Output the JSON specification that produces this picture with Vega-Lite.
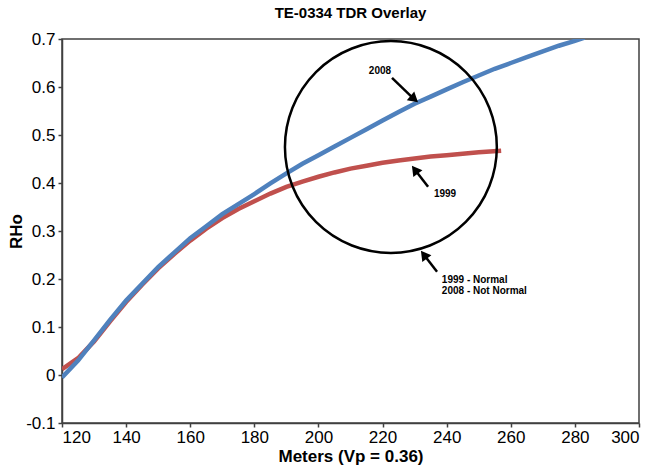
{
  "$schema": "https://vega.github.io/schema/vega-lite/v6.json",
  "width": 577,
  "height": 384,
  "autosize": "none",
  "padding": {"left": 62, "top": 39, "right": 16, "bottom": 50},
  "background": "white",
  "title": {"text": "TE-0334 TDR Overlay", "font": "Liberation Sans", "fontSize": 15, "fontWeight": "bold", "color": "#000", "offset": 9, "anchor": "middle"},
  "config": {
    "view": {"stroke": "#404040", "strokeWidth": 1.5},
    "axis": {"grid": false, "domainColor": "#404040", "domainWidth": 1.5, "tickColor": "#404040", "tickWidth": 1.5, "tickSize": 4, "labelFont": "Liberation Sans", "labelFontSize": 17, "labelColor": "#000", "titleFont": "Liberation Sans", "titleFontSize": 17, "titleFontWeight": "bold", "titleColor": "#000"}
  },
  "datasets": {
    "r1999": [
      {"m": 120, "rho": 0.012}, {"m": 125, "rho": 0.035}, {"m": 130, "rho": 0.07}, {"m": 135, "rho": 0.112},
      {"m": 140, "rho": 0.152}, {"m": 145, "rho": 0.188}, {"m": 150, "rho": 0.222}, {"m": 155, "rho": 0.252},
      {"m": 160, "rho": 0.28}, {"m": 165, "rho": 0.305}, {"m": 170, "rho": 0.327}, {"m": 175, "rho": 0.346},
      {"m": 180, "rho": 0.362}, {"m": 185, "rho": 0.378}, {"m": 190, "rho": 0.392}, {"m": 195, "rho": 0.403},
      {"m": 200, "rho": 0.413}, {"m": 205, "rho": 0.422}, {"m": 210, "rho": 0.43}, {"m": 215, "rho": 0.436},
      {"m": 220, "rho": 0.442}, {"m": 225, "rho": 0.447}, {"m": 230, "rho": 0.451}, {"m": 235, "rho": 0.455},
      {"m": 240, "rho": 0.458}, {"m": 245, "rho": 0.461}, {"m": 250, "rho": 0.464}, {"m": 257, "rho": 0.467}
    ],
    "r2008": [
      {"m": 120, "rho": -0.005}, {"m": 125, "rho": 0.03}, {"m": 130, "rho": 0.072}, {"m": 135, "rho": 0.115},
      {"m": 140, "rho": 0.155}, {"m": 145, "rho": 0.19}, {"m": 150, "rho": 0.225}, {"m": 155, "rho": 0.255},
      {"m": 160, "rho": 0.285}, {"m": 165, "rho": 0.31}, {"m": 170, "rho": 0.335}, {"m": 175, "rho": 0.356},
      {"m": 180, "rho": 0.377}, {"m": 185, "rho": 0.399}, {"m": 190, "rho": 0.42}, {"m": 195, "rho": 0.44},
      {"m": 200, "rho": 0.458}, {"m": 205, "rho": 0.476}, {"m": 210, "rho": 0.494}, {"m": 215, "rho": 0.512},
      {"m": 220, "rho": 0.53}, {"m": 225, "rho": 0.548}, {"m": 230, "rho": 0.565}, {"m": 235, "rho": 0.58},
      {"m": 240, "rho": 0.595}, {"m": 245, "rho": 0.61}, {"m": 250, "rho": 0.624}, {"m": 255, "rho": 0.638},
      {"m": 260, "rho": 0.65}, {"m": 265, "rho": 0.662}, {"m": 270, "rho": 0.674}, {"m": 275, "rho": 0.686},
      {"m": 280, "rho": 0.696}, {"m": 283, "rho": 0.703}
    ],
    "circle": [{"m": 222.6, "rho": 0.475}],
    "arrows": [
      {"m": 222.95, "rho": 0.619, "m2": 229.5, "rho2": 0.577, "ang": 131},
      {"m": 234.2, "rho": 0.392, "m2": 230.4, "rho2": 0.425, "ang": 323},
      {"m": 237.0, "rho": 0.215, "m2": 233.2, "rho2": 0.248, "ang": 323}
    ],
    "labelsC": [
      {"m": 219.2, "rho": 0.633, "label": "2008"},
      {"m": 239.5, "rho": 0.377, "label": "1999"}
    ],
    "labelsL": [
      {"m": 238.5, "rho": 0.198, "label": "1999 - Normal"},
      {"m": 238.5, "rho": 0.175, "label": "2008 - Not Normal"}
    ]
  },
  "encoding": {
    "x": {"field": "m", "type": "quantitative", "scale": {"domain": [120, 300], "nice": false, "zero": false},
          "axis": {"values": [120, 140, 160, 180, 200, 220, 240, 260, 280, 300], "title": "Meters (Vp = 0.36)", "labelPadding": 2, "titlePadding": 3}},
    "y": {"field": "rho", "type": "quantitative", "scale": {"domain": [-0.1, 0.7], "nice": false, "zero": false},
          "axis": {"values": [-0.1, 0, 0.1, 0.2, 0.3, 0.4, 0.5, 0.6, 0.7], "title": "RHo", "labelPadding": 3, "titleX": -37,
                   "labelExpr": "datum.value < -0.05 ? '-0.1' : (abs(datum.value) < 1e-9 ? '0' : format(datum.value, '.1f'))"}}
  },
  "layer": [
    {"data": {"name": "r1999"}, "mark": {"type": "line", "color": "#C0504D", "strokeWidth": 4.5, "clip": true}},
    {"data": {"name": "r2008"}, "mark": {"type": "line", "color": "#4F81BD", "strokeWidth": 4.5, "clip": true}},
    {"data": {"name": "circle"}, "mark": {"type": "point", "shape": "circle", "size": 44900, "filled": false, "stroke": "#000", "strokeWidth": 2.5, "opacity": 1}},
    {"data": {"name": "arrows"}, "mark": {"type": "rule", "color": "#000", "strokeWidth": 2.5},
     "encoding": {"x2": {"field": "m2"}, "y2": {"field": "rho2"}}},
    {"data": {"name": "arrows"}, "mark": {"type": "point", "shape": "triangle", "filled": true, "color": "#000", "size": 130, "opacity": 1},
     "encoding": {"x": {"field": "m2", "type": "quantitative"}, "y": {"field": "rho2", "type": "quantitative"}, "angle": {"field": "ang", "type": "quantitative", "scale": null}}},
    {"data": {"name": "labelsC"}, "mark": {"type": "text", "font": "Liberation Sans", "fontSize": 10, "fontWeight": "bold", "color": "#000", "baseline": "middle", "align": "center"},
     "encoding": {"text": {"field": "label"}}},
    {"data": {"name": "labelsL"}, "mark": {"type": "text", "font": "Liberation Sans", "fontSize": 10, "fontWeight": "bold", "color": "#000", "baseline": "middle", "align": "left"},
     "encoding": {"text": {"field": "label"}}}
  ]
}
